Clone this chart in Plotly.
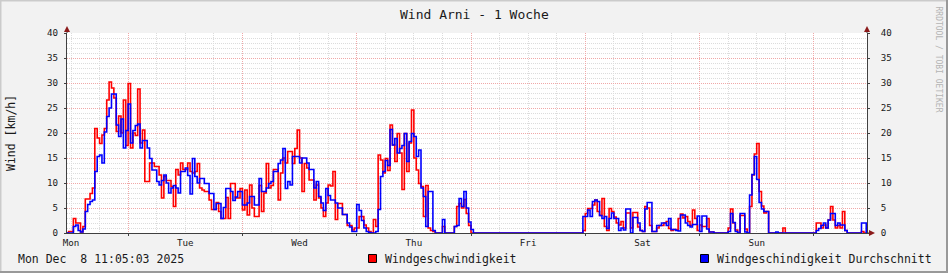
import plotly.graph_objects as go

# ---------------- data (30-min steps, starting Sunday 23:00 = -1 h) ----------------
START_H = -1.0
STEP_H = 0.5

wind = [
    0, 0.3, 0.3, 2.9, 2.0, 2.0, 0.2, 1.3, 6.8, 6.8, 7.9, 9.0,
    20.9, 19.0, 17.9, 19.6, 20.9, 26.6, 30.2, 29.0, 27.0, 20.3,
    23.4, 20.0, 26.6, 17.5, 29.9, 17.0, 20.0, 19.5, 28.8, 18.0,
    20.6, 10.3, 10.3, 14.0, 14.0, 13.3, 13.3, 11.6, 7.0, 11.3,
    10.5, 10.5, 9.3, 5.3, 12.7, 11.6, 14.0, 12.7, 12.7, 14.0,
    12.3, 12.0, 12.3, 13.9, 9.0, 8.6, 8.3, 8.3, 6.6, 4.7,
    4.7, 6.1, 4.3, 2.9, 2.9, 7.1, 2.9, 9.9, 9.9, 7.0,
    7.0, 8.9, 4.6, 8.6, 3.6, 9.6, 5.0, 3.3, 3.3, 9.5,
    4.3, 8.0, 13.9, 9.0, 9.5, 12.7, 12.7, 6.6, 12.0, 15.0,
    14.0, 16.3, 16.3, 13.9, 16.9, 20.6, 15.0, 8.3, 13.9, 13.0,
    10.6, 10.6, 6.6, 9.6, 7.0, 5.0, 3.3, 6.0, 9.6, 9.4,
    12.3, 2.7, 5.9, 5.9, 3.7, 3.7, 1.5, 1.5, 0.6, 1.0,
    1.0, 3.3, 3.3, 1.6, 1.0, 0.3, 0, 2.7, 1.3, 15.6,
    14.6, 12.0, 14.9, 12.5, 21.6, 17.6, 14.3, 19.9, 16.0, 8.7,
    19.9, 12.3, 18.0, 24.6, 15.0, 12.6, 9.9, 9.3, 3.3, 9.5,
    1.0, 0.5, 0.3, 0, 0, 0, 1.3, 0, 0, 0,
    0, 1.3, 5.3, 5.9, 5.0, 6.7, 3.9, 1.5, 0, 0,
    0, 0, 0, 0, 0, 0, 0, 0, 0, 0,
    0, 0, 0, 0, 0, 0, 0, 0, 0, 0,
    0, 0, 0, 0, 0, 0, 0, 0, 0, 0,
    0, 0, 0, 0, 0, 0, 0, 0, 0, 0,
    0, 0, 0, 0, 0,
    0.5, 3.9, 4.9, 4.9, 5.6,
    6.6, 4.3, 3.5, 6.9, 1.3, 0.5, 4.9, 4.3, 3.2, 2.0,
    1.6, 2.3, 1.0, 4.0, 4.0, 1.0, 4.1, 4.1, 1.2, 0.5,
    0.3, 5.3, 5.0, 1.5, 0.3, 0.3, 1.0, 1.5, 1.5, 2.0,
    2.3, 0.9, 0.5, 0.7, 0.6, 2.9, 3.8, 3.0, 3.3, 2.3,
    1.5, 4.6, 2.9, 0.5, 1.6, 1.3, 1.3, 2.9, 0.2, 0.2,
    0, 0, 0, 0, 0, 0, 1.0, 4.8, 2.0, 0.6,
    0, 3.5, 3.5, 0.8, 0, 5.3, 11.6, 15.8, 17.9, 8.3,
    5.4, 4.0, 4.3, 0, 0, 0, 0, 0, 0, 1.0,
    0, 0, 0, 0, 0, 0, 0, 0, 0, 0,
    0, 0, 0, 2.0, 2.0, 1.0, 1.6, 1.0, 2.6, 5.3,
    2.6, 1.0, 1.5, 1.0, 4.3, 0.5, 0, 0, 0, 0,
    0, 0, 0.3, 0, 0,
]

wind_avg = [
    0, 0, 0, 1.3, 1.6, 0.5, 0.2, 0.8, 4.3, 5.7, 6.3, 6.6,
    12.3, 15.3, 15.6, 14.0, 20.2, 23.3, 25.0, 27.8, 27.8, 21.6,
    19.3, 22.8, 17.0, 20.5, 25.8, 18.0, 20.5, 21.5, 21.8, 17.0,
    18.5, 18.5, 17.0, 14.9, 12.6, 12.6, 10.3, 9.6, 10.5, 11.6,
    10.0, 8.0, 9.0, 9.5, 9.0, 8.0, 12.3, 12.3, 13.0, 11.5,
    7.8, 14.9, 11.3, 10.0, 10.9, 10.9, 9.9, 9.9, 7.9, 7.9,
    4.7, 5.9, 5.9, 2.9, 5.1, 8.9, 8.9, 8.3, 6.5, 7.2,
    8.3, 8.3, 5.6, 5.6, 6.0, 7.3, 7.3, 5.6, 5.6, 10.9,
    8.3, 8.3, 9.0, 9.9, 10.3, 12.3, 12.3, 13.9, 14.6, 16.9,
    8.9, 10.3, 9.6, 15.3, 15.3, 15.3, 14.0, 15.0, 15.0, 14.0,
    12.7, 12.7, 9.0, 10.3, 7.3, 6.0, 4.5, 8.9, 7.5, 6.6,
    6.6, 6.0, 5.0, 5.0, 3.7, 3.7, 2.0, 1.2, 0.3, 0.3,
    5.7, 4.5, 2.5, 1.0, 0.3, 0.1, 0, 0, 0.3, 4.7,
    11.3, 12.3, 14.5, 13.5, 20.7, 17.6, 18.9, 16.0, 16.9, 17.5,
    19.9, 14.3, 18.3, 19.9, 19.3, 15.3, 16.6, 9.0, 7.3, 1.3,
    8.3, 8.3, 0.5, 0, 0, 0, 2.7, 0, 0, 0,
    0, 1.3, 1.5, 6.9, 5.3, 8.3, 5.0, 2.2, 0.7, 0,
    0, 0, 0, 0, 0, 0, 0, 0, 0, 0,
    0, 0, 0, 0, 0, 0, 0, 0, 0, 0,
    0, 0, 0, 0, 0, 0, 0, 0, 0, 0,
    0, 0, 0, 0, 0, 0, 0, 0, 0, 0,
    0, 0, 0, 0, 0,
    3.3, 3.3, 4.6, 3.3, 6.3,
    6.6, 6.3, 3.5, 2.9, 3.3, 0.9, 2.9, 4.0, 2.9, 2.9,
    0.5, 1.0, 0.6, 4.8, 4.8, 0, 3.1, 3.1, 2.0, 0.5,
    0.3, 4.8, 6.1, 6.1, 0.3, 0.3, 1.5, 1.5, 2.0, 2.0,
    1.5, 2.9, 0.7, 0.7, 0.5, 0.4, 3.6, 3.6, 2.0, 1.5,
    1.2, 1.7, 1.7, 3.4, 0.3, 3.4, 3.4, 0.8, 0.2, 0.2,
    0, 0, 0, 0, 0, 0, 0.3, 3.9, 2.1, 0.3,
    0, 3.9, 3.9, 0.2, 0, 7.6, 11.7, 15.3, 10.7, 6.1,
    4.8, 4.3, 4.3, 0, 0, 0, 0.2, 0, 0, 0,
    0, 0, 0, 0, 0, 0, 0, 0, 0, 0,
    0, 0, 0, 0.5, 0.9, 1.5, 2.0, 1.0, 2.6, 3.9,
    3.9, 1.5, 2.0, 1.6, 1.6, 0.5, 0, 0, 0, 0,
    0, 0, 2.0, 2.0, 0,
]

day_labels = ["Mon", "Tue", "Wed", "Thu", "Fri", "Sat", "Sun"]
day_ticks_h = [0, 24, 48, 72, 96, 120, 144]
noon_ticks_h = [12, 36, 60, 84, 108, 132, 156]
y_ticks = [0, 5, 10, 15, 20, 25, 30, 35, 40]

hours = [START_H + i * STEP_H for i in range(len(wind))]

# ---------------- layout geometry ----------------
W, H = 948, 273
L, R, T, B = 67, 867, 33, 233
X_RANGE = [-0.84, 167.16]
FONT = "DejaVu Sans Mono"
TXT = "#1a1a1a"
MGRID = "#F0A8A8"
GRID = "#DCDCDC"
AXIS = "#404040"
ARROW = "#8B1A1A"


def px(x):
    return (x - L) / (R - L)


def py(y):
    return (B - y) / (B - T)


fig = go.Figure()
fig.add_trace(go.Scatter(x=hours, y=wind, mode="lines", line=dict(color="#FF0000", width=1.6, shape="hv"),
                         name="Windgeschwindigkeit", hoverinfo="skip"))
fig.add_trace(go.Scatter(x=hours, y=wind_avg, mode="lines", line=dict(color="#0000FF", width=1.6, shape="hv"),
                         name="Windgeschindigkeit Durchschnitt", hoverinfo="skip"))
# helper trace so the label axis (x2) and the right axis (y2) get drawn
fig.add_trace(go.Scatter(x=[X_RANGE[0]], y=[0], xaxis="x2", yaxis="y2", mode="lines",
                         line=dict(width=0), showlegend=False, hoverinfo="skip"))

fig.update_layout(
    width=W, height=H, autosize=False,
    margin=dict(l=L, r=W - R, t=T, b=H - B, pad=0),
    paper_bgcolor="#F2F2F2", plot_bgcolor="#FFFFFF",
    showlegend=False,
    font=dict(family=FONT, color=TXT, size=9.2),
    xaxis=dict(range=X_RANGE, tickmode="array", tickvals=noon_ticks_h, showticklabels=False,
               showgrid=True, gridcolor=MGRID, griddash="1px,1px", gridwidth=1,
               ticks="outside", ticklen=2, tickcolor=AXIS,
               minor=dict(tickmode="linear", tick0=0, dtick=6, showgrid=True, gridcolor=GRID,
                          griddash="1px,1px", gridwidth=1),
               showline=True, linecolor=AXIS, linewidth=1, zeroline=False, fixedrange=True),
    xaxis2=dict(range=X_RANGE, overlaying="x", anchor="y", side="bottom", tickmode="array",
                tickvals=day_ticks_h, ticktext=day_labels, showgrid=False, zeroline=False,
                showline=False, ticks="", ticklabelstandoff=3,
                tickfont=dict(family=FONT, size=9.2, color=TXT), fixedrange=True),
    yaxis=dict(range=[0, 40], tickmode="array", tickvals=y_ticks, showgrid=True, gridcolor=MGRID,
               griddash="1px,1px", gridwidth=1, ticks="outside", ticklen=2, tickcolor=AXIS,
               minor=dict(tickmode="linear", tick0=0, dtick=1, showgrid=True, gridcolor=GRID,
                          griddash="1px,1px", gridwidth=1),
               showline=True, linecolor=AXIS, linewidth=1, zeroline=False,
               ticklabelstandoff=4, tickfont=dict(family=FONT, size=9.2, color=TXT), fixedrange=True),
    yaxis2=dict(range=[0, 40], overlaying="y", side="right", anchor="x", tickmode="array",
                tickvals=y_ticks, showgrid=False, zeroline=False, showline=True, linecolor=AXIS,
                linewidth=1, ticks="outside", ticklen=2, tickcolor=AXIS, ticklabelstandoff=9,
                tickfont=dict(family=FONT, size=9.2, color=TXT), fixedrange=True),
)

shapes = []
# 3D-ish canvas border (rrdtool shade)
shapes.append(dict(type="line", xref="paper", yref="paper", x0=px(0), x1=px(W), y0=py(0.5), y1=py(0.5),
                   line=dict(color="#CBCBCB", width=2)))
shapes.append(dict(type="line", xref="paper", yref="paper", x0=px(0.5), x1=px(0.5), y0=py(0), y1=py(H),
                   line=dict(color="#CBCBCB", width=2)))
shapes.append(dict(type="line", xref="paper", yref="paper", x0=px(0), x1=px(W), y0=py(H - 1), y1=py(H - 1),
                   line=dict(color="#999999", width=2)))
shapes.append(dict(type="line", xref="paper", yref="paper", x0=px(W - 1), x1=px(W - 1), y0=py(0), y1=py(H),
                   line=dict(color="#999999", width=2)))
# x-axis extension + arrows
shapes.append(dict(type="line", xref="paper", yref="paper", x0=px(R), x1=px(R + 4), y0=0, y1=0,
                   line=dict(color=AXIS, width=1)))
shapes.append(dict(type="path", xref="paper", yref="paper",
                   path=f"M {px(R + 2)},{py(B - 3)} L {px(R + 8)},{py(B)} L {px(R + 2)},{py(B + 3)} Z",
                   fillcolor=ARROW, line=dict(color=ARROW, width=0)))
for ax_x in (L, R):
    shapes.append(dict(type="line", xref="paper", yref="paper", x0=px(ax_x), x1=px(ax_x), y0=1, y1=py(T - 3),
                       line=dict(color=AXIS, width=1)))
    shapes.append(dict(type="path", xref="paper", yref="paper",
                       path=f"M {px(ax_x - 3)},{py(T - 1)} L {px(ax_x)},{py(T - 7)} L {px(ax_x + 3)},{py(T - 1)} Z",
                       fillcolor=ARROW, line=dict(color=ARROW, width=0)))
# legend boxes
shapes.append(dict(type="rect", xref="paper", yref="paper", x0=px(368.5), x1=px(376.5), y0=py(262.5), y1=py(254.5),
                   fillcolor="#FF0000", line=dict(color="#000000", width=1)))
shapes.append(dict(type="rect", xref="paper", yref="paper", x0=px(700.5), x1=px(708.5), y0=py(262.5), y1=py(254.5),
                   fillcolor="#0000FF", line=dict(color="#000000", width=1)))
fig.update_layout(shapes=shapes)

ann = [
    dict(text="Wind Arni - 1 Woche", x=px(474), y=py(14), xanchor="center", yanchor="middle",
         font=dict(family=FONT, size=13, color=TXT)),
    dict(text="Wind [km/h]", x=px(11), y=py(133), xanchor="center", yanchor="middle", textangle=-90,
         font=dict(family=FONT, size=11.5, color=TXT)),
    dict(text="Mon Dec\u00a0 8 11:05:03 2025", x=px(16), y=py(259), xanchor="left", yanchor="middle",
         font=dict(family=FONT, size=11.5, color=TXT)),
    dict(text="Windgeschwindigkeit", x=px(382.5), y=py(259), xanchor="left", yanchor="middle",
         font=dict(family=FONT, size=11.5, color=TXT)),
    dict(text="Windgeschindigkeit Durchschnitt", x=px(714.5), y=py(259), xanchor="left", yanchor="middle",
         font=dict(family=FONT, size=11.5, color=TXT)),
    dict(text="RRDTOOL / TOBI OETIKER", x=px(938.5), y=py(59), xanchor="center", yanchor="middle", textangle=90,
         font=dict(family=FONT, size=8, color="#B4B4B4")),
]
for a in ann:
    a.update(xref="paper", yref="paper", showarrow=False)
fig.update_layout(annotations=ann)

fig.write_html("out.html")
